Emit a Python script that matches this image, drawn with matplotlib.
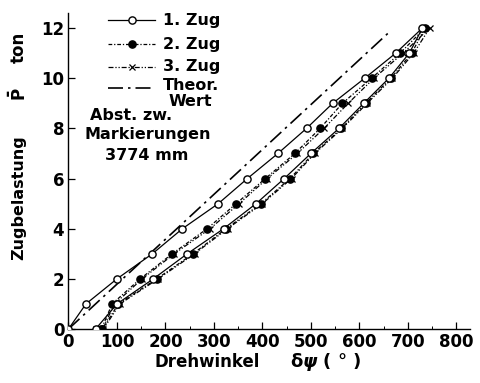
import matplotlib
matplotlib.use("Agg")
import matplotlib.pyplot as plt
from matplotlib.lines import Line2D
from matplotlib.ticker import MultipleLocator

# Load steps (ton) for loading and unloading branches
load_up = [0, 1, 2, 3, 4, 5, 6, 7, 8, 9, 10, 11, 12]
load_dn = [12, 11, 10, 9, 8, 7, 6, 5, 4, 3, 2, 1, 0]

# Twist angle (deg) per test run
zug1_up = [0, 36, 100, 173, 235, 309, 369, 432, 491, 545, 611, 675, 730]
zug1_dn = [730, 703, 661, 609, 558, 500, 445, 387, 320, 245, 175, 100, 56]

zug2_up = [68, 90, 148, 214, 286, 346, 406, 467, 519, 565, 625, 684, 735]
zug2_dn = [735, 708, 665, 613, 563, 505, 457, 397, 325, 257, 182, 103, 70]

zug3_up = [70, 95, 152, 218, 292, 352, 410, 472, 527, 577, 630, 690, 745]
zug3_dn = [745, 712, 668, 616, 565, 508, 460, 400, 328, 260, 185, 106, 72]

# Theoretical line
theor_x = [0, 665]
theor_y = [0, 11.9]

x_ticks = [0, 100, 200, 300, 400, 500, 600, 700, 800]
y_ticks = [0, 2, 4, 6, 8, 10, 12]

series_labels = ["1. Zug", "2. Zug", "3. Zug", "Theor.", "Wert"]

plt.rcParams["font.family"] = ["DejaVu Sans"]
plt.rcParams["font.weight"] = "bold"

W, H = 480, 383
fig = plt.figure(figsize=(W / 100, H / 100), dpi=100)
ax = fig.add_axes([0.1427, 0.141, 0.979 - 0.1427, 0.966 - 0.141])

lw = 0.9
ms = 5.2
style3 = dict(color="black", lw=lw, linestyle=(0, (4, 1.5, 1, 1.5, 1, 1.5)),
              marker="x", ms=5, mew=0.9)
style2 = dict(color="black", lw=lw, linestyle=(0, (3, 1.5, 1, 1.5)),
              marker="o", ms=ms, mfc="black", mec="black")
style1 = dict(color="black", lw=lw, linestyle="-", marker="o", ms=ms,
              mfc="white", mec="black", mew=1.0)
style_t = dict(color="black", lw=1.2, linestyle=(0, (9, 3, 1.5, 3)))

ax.plot(zug3_up + zug3_dn[1:], load_up + load_dn[1:], zorder=2, **style3)
ax.plot(zug2_up + zug2_dn[1:], load_up + load_dn[1:], zorder=3, **style2)
ax.plot(zug1_up + zug1_dn[1:], load_up + load_dn[1:], zorder=4, **style1)
ax.plot(theor_x, theor_y, zorder=1, **style_t)

ax.set_xlim(0, 828)
ax.set_ylim(0, 12.6)
ax.set_xticks(x_ticks)
ax.set_yticks(y_ticks)
ax.xaxis.set_minor_locator(MultipleLocator(50))
ax.tick_params(direction="in", length=5, width=0.9, labelsize=12, pad=3)
ax.tick_params(which="minor", direction="in", length=2.5, width=0.7)
ax.tick_params(axis="y", which="minor", left=False)
for lab in ax.get_xticklabels() + ax.get_yticklabels():
    lab.set_fontweight("bold")
for side in ("top", "right"):
    ax.spines[side].set_visible(False)
for side in ("left", "bottom"):
    ax.spines[side].set_linewidth(1.0)


def fx(x):
    return x / W


def fy(y):
    return 1 - y / H


def ftxt(x, y, s, **kw):
    fig.text(fx(x), fy(y), s, **kw)


# Key: sample line with a marker in the middle, then the label
def key_entry(y, style, text, text_y=None):
    base = {k: v for k, v in style.items() if not k.startswith("m")}
    fig.add_artist(Line2D([fx(108), fx(155)], [fy(y), fy(y)], **base))
    if "marker" in style:
        mk = {k: v for k, v in style.items() if k.startswith("m") or k == "color"}
        fig.add_artist(Line2D([fx(131.5)], [fy(y)], linestyle="none", **mk))
    ftxt(163, y if text_y is None else text_y, text, fontsize=11.5,
         fontweight="bold", va="center", ha="left")


key_entry(20, style1, series_labels[0])
key_entry(44, style2, series_labels[1])
key_entry(67, style3, series_labels[2])
key_entry(88, style_t, series_labels[3], text_y=85)
ftxt(169, 102, series_labels[4], fontsize=11.5, fontweight="bold",
     va="center", ha="left")

ftxt(90, 115, "Abst. zw.", fontsize=11.5, fontweight="bold", va="center", ha="left")
ftxt(84, 135, "Markierungen", fontsize=11.5, fontweight="bold", va="center", ha="left")
ftxt(105, 156, "3774 mm", fontsize=11.5, fontweight="bold", va="center", ha="left")

# Axis titles
ftxt(19, 198, "Zugbelastung", fontsize=11.5, fontweight="bold", rotation=90,
     va="center", ha="center")
ftxt(19, 94, r"$\bar{\mathbf{P}}$", fontsize=12, rotation=90,
     va="center", ha="center")
ftxt(19, 47, "ton", fontsize=12, fontweight="bold", rotation=90,
     va="center", ha="center")
ftxt(207, 362, "Drehwinkel", fontsize=12, fontweight="bold", va="center", ha="center")
ftxt(326, 362, r"$\mathbf{\delta}\psi$ ( ° )", fontsize=13, fontweight="bold",
     va="center", ha="center")

fig.savefig("out.png", dpi=100)
